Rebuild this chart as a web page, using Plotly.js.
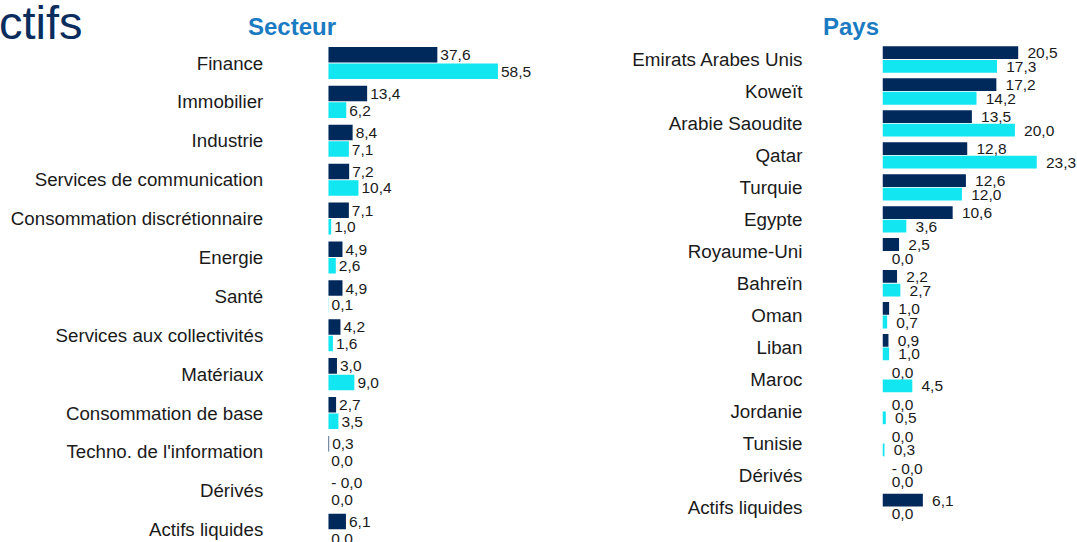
<!DOCTYPE html>
<html>
<head>
<meta charset="utf-8">
<script src="https://cdn.plot.ly/plotly-3.0.1.min.js"></script>
<style>html,body{margin:0;padding:0;background:#fff;}#chart{width:1077px;height:542px;}</style>
</head>
<body>
<div id="chart"></div>
<script>
const sectorCats = ["Finance","Immobilier","Industrie","Services de communication","Consommation discrétionnaire","Energie","Santé","Services aux collectivités","Matériaux","Consommation de base","Techno. de l'information","Dérivés","Actifs liquides"];
const sectorPortfolio = [37.6,13.4,8.4,7.2,7.1,4.9,4.9,4.2,3.0,2.7,0.3,-0.01,6.1];
const sectorIndex = [58.5,6.2,7.1,10.4,1.0,2.6,0.1,1.6,9.0,3.5,0.0,0.0,0.0];

const paysCats = ["Emirats Arabes Unis","Koweït","Arabie Saoudite","Qatar","Turquie","Egypte","Royaume-Uni","Bahreïn","Oman","Liban","Maroc","Jordanie","Tunisie","Dérivés","Actifs liquides"];
const paysPortfolio = [20.5,17.2,13.5,12.8,12.6,10.6,2.5,2.2,1.0,0.9,0.0,0.0,0.0,-0.01,6.1];
const paysIndex = [17.3,14.2,20.0,23.3,12.0,3.6,0.0,2.7,0.7,1.0,4.5,0.5,0.3,0.0,0.0];

const DARK = "#00295b";
const CYAN = "#12e6f0";
const FONT = "Liberation Sans, Arial, sans-serif";

function fmt(v, prefix) {
  const s = Math.abs(v).toFixed(1).replace('.', ',');
  return (prefix || '') + (v < 0 ? '- ' + s : s);
}
function bar(vals, cats, color, xa, ya, prefix) {
  return {
    type: 'bar', orientation: 'h',
    x: vals.map(v => Math.max(v, 0)), y: cats,
    text: vals.map(v => fmt(v, prefix)),
    textposition: 'outside', constraintext: 'none', cliponaxis: false,
    textfont: {family: FONT, size: 15.5, color: '#1a1a1a'},
    marker: {color: color, line: {width: 0}},
    xaxis: xa, yaxis: ya, hoverinfo: 'none'
  };
}
const data = [
  bar(sectorPortfolio, sectorCats, DARK, 'x', 'y', ''),
  bar(sectorIndex, sectorCats, CYAN, 'x', 'y', ''),
  bar(paysPortfolio, paysCats, DARK, 'x2', 'y2', '\u2009\u2009'),
  bar(paysIndex, paysCats, CYAN, 'x2', 'y2', '\u2009\u2009')
];
const hiddenX = {showgrid:false, zeroline:false, showticklabels:false, showline:false, ticks:'', fixedrange:true};
const layout = {
  width: 1077, height: 542,
  margin: {l:0, r:0, t:0, b:0, pad:0},
  paper_bgcolor: '#fff', plot_bgcolor: 'rgba(0,0,0,0)',
  showlegend: false,
  barmode: 'group', bargap: 0.15, bargroupgap: 0.06,
  font: {family: FONT, color: '#1a1a1a'},
  xaxis: Object.assign({domain:[0.3048, 0.52], range:[0, 79.9], anchor:'y'}, hiddenX),
  yaxis: {type:'category', domain:[0, 0.9197], range:[12.315, -0.5], anchor:'x',
          showgrid:false, zeroline:false, showline:false, ticks:'', ticklabelstandoff: 64,
          tickfont:{family:FONT, size:18.7, color:'#1a1a1a'}},
  xaxis2: Object.assign({domain:[0.8194, 1], range:[0, 29.38], anchor:'y2'}, hiddenX),
  yaxis2: {type:'category', domain:[0.0351, 0.9197], range:[14.5, -0.5], anchor:'x2',
          showgrid:false, zeroline:false, showline:false, ticks:'', ticklabelstandoff: 79,
          tickfont:{family:FONT, size:18.8, color:'#1a1a1a'}},
  annotations: [
    {text:'ctifs', xref:'paper', yref:'paper', x:0, y:1-23/542, xanchor:'left', yanchor:'middle',
     xshift:-3, showarrow:false, font:{family:FONT, size:47, color:'#0a2d5e'}},
    {text:'<b>Secteur</b>', xref:'paper', yref:'paper', x:291.5/1077, y:1-26/542, xanchor:'center', yanchor:'middle',
     showarrow:false, font:{family:FONT, size:24, color:'#1b7bc2'}},
    {text:'<b>Pays</b>', xref:'paper', yref:'paper', x:850.5/1077, y:1-26/542, xanchor:'center', yanchor:'middle',
     showarrow:false, font:{family:FONT, size:24, color:'#1b7bc2'}}
  ]
};
Plotly.newPlot('chart', data, layout, {staticPlot:true, displayModeBar:false});
</script>
</body>
</html>
